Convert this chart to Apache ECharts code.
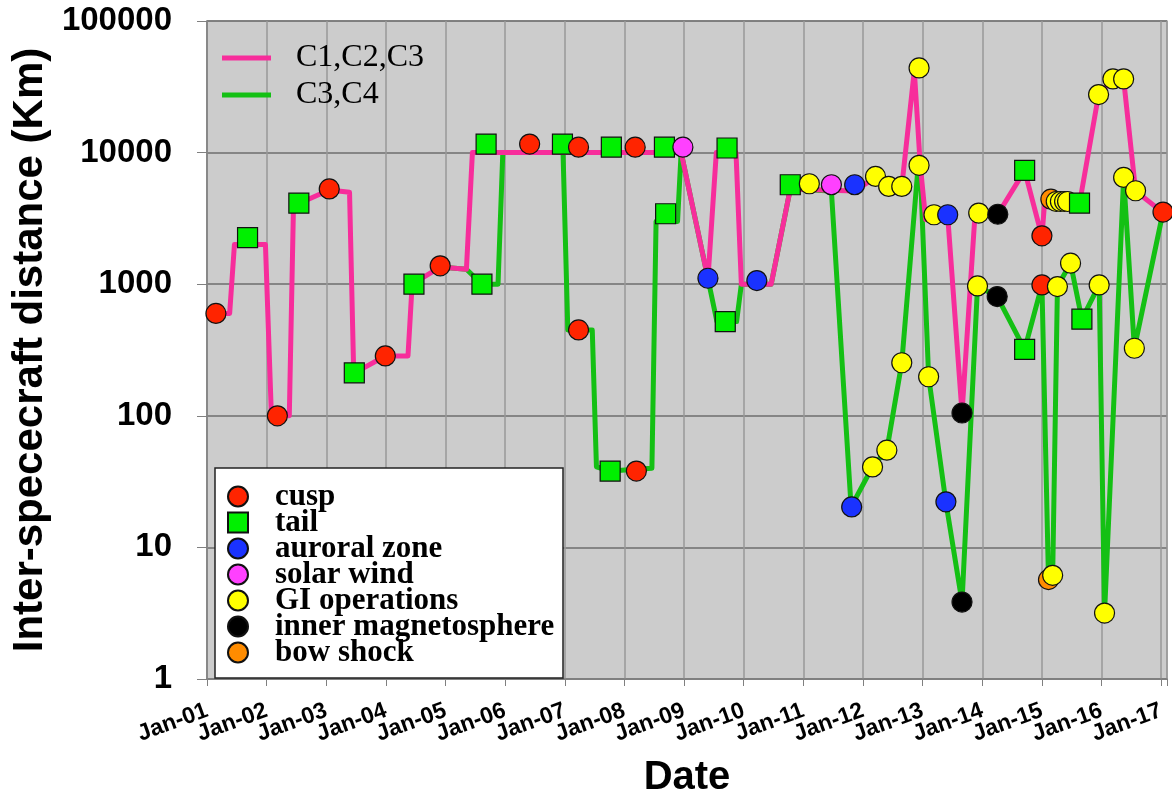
<!DOCTYPE html>
<html>
<head>
<meta charset="utf-8">
<title>Inter-spacecraft distance</title>
<script src="https://cdn.jsdelivr.net/npm/echarts@6/dist/echarts.min.js"></script>
<style>
  html, body { margin: 0; padding: 0; background: #ffffff; }
  #chart { width: 1172px; height: 794px; }
</style>
</head>
<body>
<div id="chart"></div>
<script>
// ---- data (x = decimal year, y = separation in km) ----
const xTickLabels = ['Jan-01','Jan-02','Jan-03','Jan-04','Jan-05','Jan-06','Jan-07','Jan-08','Jan-09',
                     'Jan-10','Jan-11','Jan-12','Jan-13','Jan-14','Jan-15','Jan-16','Jan-17'];
const yTickLabels = ['1','10','100','1000','10000','100000'];

// separation between C1, C2 and C3
const sepC1C2C3 = [
  [2001.15,600],[2001.38,600],[2001.46,2000],[2001.98,2000],[2002.08,100],[2002.38,100],
  [2002.45,3900],[2002.54,4100],[2003.05,5200],[2003.39,5000],[2003.46,210],[2003.99,285],
  [2004.37,285],[2004.44,1000],[2004.91,1350],[2005.35,1300],[2005.45,10000],[2008.95,10000],
  [2009.40,1100],[2009.54,10000],[2009.87,10000],[2009.96,1000],[2010.46,1000],[2010.78,5300],
  [2011.86,5100],[2012.21,6500],[2012.43,5500],[2012.65,5500],[2012.86,42000],[2012.96,8000],
  [2013.05,3100],[2013.42,3300],[2013.66,105],[2013.87,3000],[2013.92,3400],[2014.26,3400],
  [2014.71,7300],[2015.00,2300],[2015.04,3900],[2015.15,4300],[2015.63,4100],[2015.95,27600],
  [2016.19,36000],[2016.37,36000],[2016.57,5100],[2017.03,3500]
];

// separation between C3 and C4
const sepC3C4 = [
  [2004.91,1350],[2005.35,1300],[2005.61,1000],[2005.88,1000],[2005.96,10000],[2006.97,10000],
  [2007.05,449],[2007.46,449],[2007.53,41],[2007.76,38],[2008.46,40],[2008.53,3000],
  [2008.89,3000],[2008.95,10000],[2009.40,1100],[2009.55,520],[2009.88,520],[2009.96,1000],
  [2010.46,1000],[2010.78,5300],[2011.47,5100],[2011.80,20.3],[2012.16,41],[2012.40,55],
  [2012.65,253],[2012.92,7500],[2012.96,7500],[2013.10,198],[2013.39,22],[2013.66,3.84],
  [2013.92,970],[2014.25,805],[2014.71,320],[2015.00,988],[2015.11,5.7],[2015.18,6.1],
  [2015.26,959],[2015.48,1445],[2015.67,542],[2015.96,988],[2016.05,3.17],[2016.37,6480],
  [2016.55,326],[2017.03,3530]
];

// measurement campaigns by region
const cusp = [
  [2001.15,600],[2002.18,100],[2003.05,5300],[2003.99,285],[2004.91,1380],[2006.41,11600],
  [2007.23,11000],[2007.23,449],[2008.18,11000],[2008.20,38],[2015.00,2330],[2015.00,988],
  [2017.03,3530]
];
const tail = [
  [2001.68,2260],[2002.54,4130],[2003.47,212],[2004.47,1000],[2005.61,1000],[2005.68,11600],
  [2006.96,11600],[2007.76,38],[2007.78,11000],[2008.67,11000],[2008.69,3430],[2009.69,519],
  [2009.72,10840],[2010.78,5700],[2014.71,7320],[2014.71,320],[2015.63,4130],[2015.67,542]
];
const auroralZone = [
  [2009.40,1110],[2010.22,1065],[2011.81,20.3],[2011.86,5700],[2013.39,22.2],[2013.42,3370]
];
const solarWind = [
  [2008.98,11000],[2011.47,5700]
];
const giOperations = [
  [2011.10,5800],[2012.16,40.9],[2012.21,6590],[2012.40,54.8],[2012.43,5530],[2012.65,5530],
  [2012.65,253],[2012.94,44000],[2012.94,8000],[2013.10,198],[2013.19,3370],[2013.92,970],
  [2013.94,3470],[2015.18,6.13],[2015.24,4250],[2015.26,959],[2015.31,4250],[2015.38,4250],
  [2015.43,4250],[2015.48,1445],[2015.95,27600],[2015.96,988],[2016.05,3.17],[2016.19,36300],
  [2016.37,36300],[2016.37,6480],[2016.55,326],[2016.57,5130]
];
const innerMagnetosphere = [
  [2013.66,105],[2013.66,3.84],[2014.25,805],[2014.26,3400]
];
const bowShock = [
  [2015.11,5.69],[2015.15,4430]
];

const regionNames = ['cusp','tail','auroral zone','solar wind','GI operations','inner magnetosphere','bow shock'];
const regionData  = [cusp, tail, auroralZone, solarWind, giOperations, innerMagnetosphere, bowShock];

// ---- styles ----
const regionColors  = ['#ff2400','#00f000','#1a32ff','#ff40ff','#ffff00','#000000','#ff8c00'];
const regionSymbols = ['circle','rect','circle','circle','circle','circle','circle'];
const pink  = '#f72d9b';
const green = '#14c014';
const serif = "'Liberation Serif', 'Times New Roman', serif";
const sans  = "'Liberation Sans', Arial, sans-serif";

// all markers in one series, drawn in time order so later ones sit on top
const markerItems = [];
regionData.forEach((arr, k) => {
  arr.forEach(p => markerItems.push({
    value: p,
    symbol: regionSymbols[k],
    itemStyle: { color: regionColors[k] }
  }));
});
markerItems.sort((a, b) => a.value[0] - b.value[0]);

const legendSeries = regionNames.map((name, k) => ({
  name: name,
  type: 'scatter',
  data: [],
  symbol: regionSymbols[k],
  symbolSize: 20,
  itemStyle: { color: regionColors[k], borderColor: '#111', borderWidth: 1.2, opacity: 1 }
}));

// year labels are split over two overlaid bottom axes (odd / even years),
// so that the slanted, overlapping labels are all kept
const X_MIN = 2001, X_MAX = 2017.097;
function yearLabel(parity) {
  return v => {
    const i = Math.round(v - X_MIN);
    if (Math.abs(v - X_MIN - i) > 0.01 || i < 0 || i >= xTickLabels.length) return '';
    return i % 2 === parity ? xTickLabels[i] : '';
  };
}
const xLabelStyle = {
  rotate: 20, margin: 31, hideOverlap: false,
  fontFamily: sans, fontWeight: 'bold', fontSize: 23, color: '#000'
};

const chart = echarts.init(document.getElementById('chart'), null, { renderer: 'canvas' });

chart.setOption({
  animation: false,
  backgroundColor: '#ffffff',
  grid: {
    left: 207, right: 5, top: 21, bottom: 115,
    containLabel: false, outerBoundsMode: 'none',
    show: true, backgroundColor: '#cccccc', borderColor: '#a8a8a8', borderWidth: 1.5
  },
  xAxis: [
    {
      type: 'value', position: 'bottom',
      min: X_MIN, max: X_MAX, interval: 1,
      name: 'Date', nameLocation: 'middle', nameGap: 79,
      nameTextStyle: { fontFamily: sans, fontWeight: 'bold', fontSize: 40, color: '#000' },
      axisLine: { show: true, onZero: false, lineStyle: { color: '#808080', width: 1.5 } },
      axisTick: { show: true, length: 7, lineStyle: { color: '#808080' } },
      splitLine: { show: true, lineStyle: { color: '#999999', width: 1.5 } },
      axisLabel: Object.assign({ formatter: yearLabel(0) }, xLabelStyle)
    },
    {
      type: 'value', position: 'bottom', offset: 0,
      min: X_MIN, max: X_MAX, interval: 1,
      axisLine: { show: false, onZero: false },
      axisTick: { show: false },
      splitLine: { show: false },
      axisLabel: Object.assign({ formatter: yearLabel(1) }, xLabelStyle)
    }
  ],
  yAxis: {
    type: 'log', logBase: 10, min: 1, max: 100000,
    name: 'Inter-spececraft distance (Km)', nameLocation: 'middle', nameRotate: 90, nameGap: 137,
    nameTextStyle: { fontFamily: sans, fontWeight: 'bold', fontSize: 42, color: '#000' },
    axisLine: { show: true, lineStyle: { color: '#808080', width: 1.5 } },
    axisTick: { show: true, length: 10, lineStyle: { color: '#808080' } },
    minorTick: { show: false },
    splitLine: { show: true, lineStyle: { color: '#6e6e6e', width: 1.5 } },
    axisLabel: {
      margin: 35, showMinLabel: true, showMaxLabel: true,
      fontFamily: sans, fontWeight: 'bold', fontSize: 33, color: '#000',
      formatter: v => {
        const i = Math.round(Math.log10(v));
        return yTickLabels[i] !== undefined ? yTickLabels[i] : '';
      }
    }
  },
  legend: [
    {
      data: ['C1,C2,C3', 'C3,C4'],
      orient: 'vertical', left: 222, top: 42, padding: 0,
      icon: 'rect', itemWidth: 49, itemHeight: 5, itemGap: 5,
      selectedMode: false,
      textStyle: { fontFamily: serif, fontSize: 32, lineHeight: 30, color: '#000', padding: [0, 0, 0, 20] }
    },
    {
      data: regionNames,
      orient: 'vertical', left: 227, top: 481, padding: 0,
      itemWidth: 20, itemHeight: 20, itemGap: -5,
      selectedMode: false, z: 60,
      textStyle: { fontFamily: serif, fontWeight: 'bold', fontSize: 31, lineHeight: 26, color: '#000', padding: [0, 0, 0, 22] }
    }
  ],
  graphic: [{
    type: 'rect', z: 50,
    shape: { x: 215, y: 468, width: 348, height: 210 },
    style: { fill: '#ffffff', stroke: '#222', lineWidth: 1.5 }
  }],
  series: [
    {
      name: 'C3,C4', type: 'line', data: sepC3C4, showSymbol: false, z: 2,
      color: green, lineStyle: { color: green, width: 5, join: 'round' }
    },
    {
      name: 'C1,C2,C3', type: 'line', data: sepC1C2C3, showSymbol: false, z: 3,
      color: pink, lineStyle: { color: pink, width: 5, join: 'round' }
    },
    {
      name: 'markers', type: 'scatter', data: markerItems, symbolSize: 20, z: 4,
      itemStyle: { borderColor: '#111', borderWidth: 1.2, opacity: 1 }
    }
  ].concat(legendSeries)
});
</script>
</body>
</html>
